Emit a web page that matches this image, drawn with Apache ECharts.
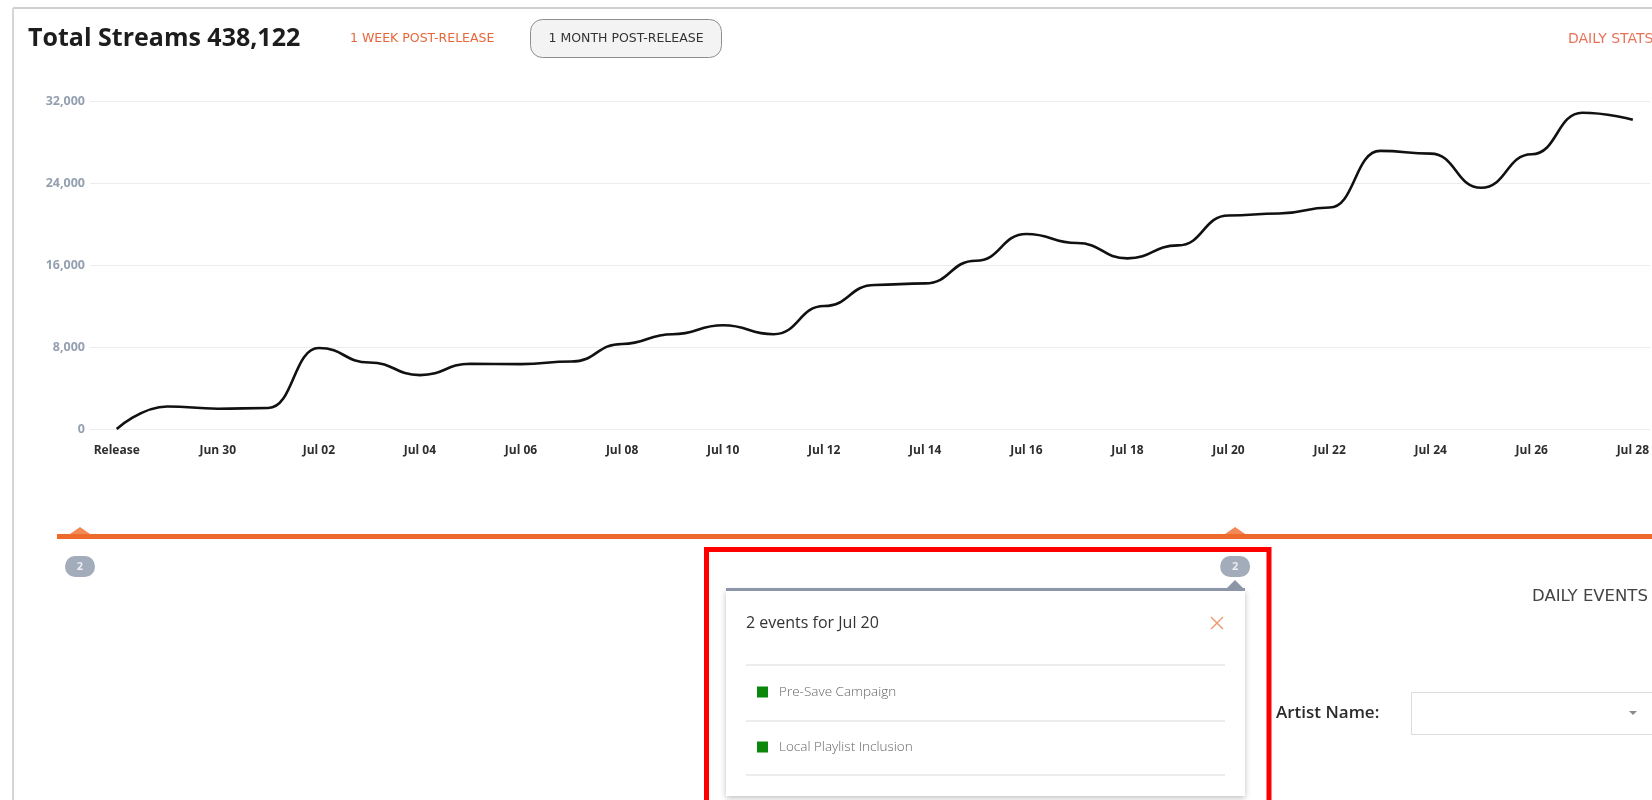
<!DOCTYPE html>
<html>
<head>
<meta charset="utf-8">
<title>Total Streams</title>
<script src="https://cdn.jsdelivr.net/npm/echarts@6/dist/echarts.min.js"></script>
<style>
  html, body { margin: 0; padding: 0; background: #fff; }
  #main { width: 1652px; height: 800px; }
</style>
</head>
<body>
<div id="main"></div>
<script>
// days since release
var days = ['Release', 'Jun 29', 'Jun 30', 'Jul 01', 'Jul 02', 'Jul 03', 'Jul 04', 'Jul 05',
  'Jul 06', 'Jul 07', 'Jul 08', 'Jul 09', 'Jul 10', 'Jul 11', 'Jul 12', 'Jul 13', 'Jul 14',
  'Jul 15', 'Jul 16', 'Jul 17', 'Jul 18', 'Jul 19', 'Jul 20', 'Jul 21', 'Jul 22', 'Jul 23',
  'Jul 24', 'Jul 25', 'Jul 26', 'Jul 27', 'Jul 28'];
// daily streams
var streams = [0, 2200, 1980, 2050, 7900, 6490, 5260, 6360, 6330, 6590, 8300, 9250, 10120,
  9250, 12000, 14050, 14210, 16420, 19020, 18140, 16650, 17910, 20830, 21030, 21610, 27130,
  26870, 23530, 26800, 30860, 30180];
// y ticks
var yTicks = [0, 8000, 16000, 24000, 32000];
// label every second day
var labelDays = [0, 2, 4, 6, 8, 10, 12, 14, 16, 18, 20, 22, 24, 26, 28, 30];
// events on the timeline
var eventDates = ['Release', 'Jul 20'];
var eventCounts = [2, 2];
var popupNames = ['Pre-Save Campaign', 'Local Playlist Inclusion'];

var total = 438122;
var font = 'Open Sans';
var wide = 'DejaVu Sans';
var orange = '#ee6a2c';

var lineData = [];
for (var i = 0; i < streams.length; i++) {
  lineData.push([i, streams[i]]);
}
var eventIdx = eventDates.map(function (d) { return days.indexOf(d); });

var myChart = echarts.init(document.getElementById('main'));

var graphics = [
  // card border
  { type: 'line', shape: { x1: 13, y1: 8, x2: 1652, y2: 8 }, style: { stroke: '#cfcfcf', lineWidth: 2 } },
  { type: 'line', shape: { x1: 13, y1: 8, x2: 13, y2: 800 }, style: { stroke: '#d6d6d6', lineWidth: 2 } },
  // header
  { type: 'text', x: 28, y: 39, style: { text: 'Total Streams ' + total.toLocaleString('en-US'), font: 'bold 25px "' + font + '"', fill: '#1d1d1d', verticalAlign: 'middle' } },
  { type: 'text', x: 350, y: 39, style: { text: '1 WEEK POST-RELEASE', font: '12.5px "' + wide + '"', fill: '#e8673a', verticalAlign: 'middle' } },
  { type: 'rect', shape: { x: 530.5, y: 19.5, width: 191, height: 38, r: 12 }, style: { fill: '#f3f3f4', stroke: '#8e8e8e', lineWidth: 1 } },
  { type: 'text', x: 626, y: 39, style: { text: '1 MONTH POST-RELEASE', font: '12.5px "' + wide + '"', fill: '#333', align: 'center', verticalAlign: 'middle' } },
  { type: 'text', x: 1568, y: 39, style: { text: 'DAILY STATS', font: '14px "' + wide + '"', fill: '#e8735a', verticalAlign: 'middle' } },
  // timeline bar
  { type: 'rect', z: 1, shape: { x: 57, y: 534, width: 1600, height: 5 }, style: { fill: orange } },
  // right panel
  { type: 'text', x: 1532, y: 597, style: { text: 'DAILY EVENTS', font: '16.5px "' + wide + '"', fill: '#444', verticalAlign: 'middle' } },
  { type: 'text', x: 1276, y: 713, style: { text: 'Artist Name:', font: '600 17px "' + font + '"', fill: '#2b2b2b', verticalAlign: 'middle' } },
  { type: 'rect', shape: { x: 1411.5, y: 692.5, width: 260, height: 42 }, style: { fill: '#fff', stroke: '#dcdcdc', lineWidth: 1 } },
  { type: 'polygon', shape: { points: [[1629, 711], [1637, 711], [1633, 715]] }, style: { fill: '#8a8a8a' } },
  // popup
  { type: 'rect', z: 50, shape: { x: 726, y: 590, width: 519, height: 206 }, style: { fill: '#fff', shadowBlur: 6, shadowColor: 'rgba(0,0,0,0.25)', shadowOffsetY: 2 } },
  { type: 'rect', z: 51, shape: { x: 726, y: 588, width: 519, height: 3 }, style: { fill: '#8c96a8' } },
  { type: 'polygon', z: 51, shape: { points: [[1226, 589], [1235, 580], [1244, 589]] }, style: { fill: '#8c96a8' } },
  { type: 'text', z: 52, x: 746, y: 623, style: { text: eventCounts[1] + ' events for ' + eventDates[1], font: '500 16px "' + font + '"', fill: '#333', verticalAlign: 'middle' } },
  { type: 'line', z: 52, shape: { x1: 1211, y1: 617, x2: 1223, y2: 629 }, style: { stroke: '#f09a72', lineWidth: 1.5 } },
  { type: 'line', z: 52, shape: { x1: 1223, y1: 617, x2: 1211, y2: 629 }, style: { stroke: '#f09a72', lineWidth: 1.5 } }
];

var sepY = [665, 721, 775];
sepY.forEach(function (y) {
  graphics.push({ type: 'line', z: 52, shape: { x1: 746, y1: y, x2: 1225, y2: y }, style: { stroke: '#e6e6e6', lineWidth: 1.5 } });
});
popupNames.forEach(function (name, k) {
  var y = 692 + k * 55;
  graphics.push({ type: 'rect', z: 52, shape: { x: 757, y: y - 5.5, width: 11, height: 11 }, style: { fill: '#0b870b' } });
  graphics.push({ type: 'text', z: 52, x: 779, y: y, style: { text: name, font: '300 13.5px "' + font + '"', fill: '#666', verticalAlign: 'middle' } });
});
// highlight box
graphics.push({ type: 'rect', z: 60, shape: { x: 706.5, y: 549.5, width: 562.5, height: 300 }, style: { fill: 'none', stroke: '#ff0000', lineWidth: 5 } });

option = {
  animation: false,
  textStyle: { fontFamily: font },
  grid: [
    { left: 90, right: 0, top: 101, height: 328 },
    { left: 57, right: 0, top: 520, height: 60 }
  ],
  xAxis: [
    {
      type: 'value',
      gridIndex: 0,
      min: -0.528,
      max: 30.34,
      splitLine: { show: false },
      axisLine: { show: false },
      axisTick: { show: false },
      axisLabel: {
        customValues: labelDays,
        formatter: function (v) { return days[v]; },
        color: '#2e2e2e',
        fontWeight: 'bold',
        fontSize: 12,
        margin: 16
      }
    },
    { type: 'value', gridIndex: 1, min: -0.438, max: 29.94, show: false }
  ],
  yAxis: [
    {
      type: 'value',
      gridIndex: 0,
      min: 0,
      max: 32000,
      interval: 8000,
      axisLine: { show: false },
      axisTick: { show: false },
      splitLine: { lineStyle: { color: '#ececec', width: 1 } },
      axisLabel: {
        formatter: function (v) { return v.toLocaleString('en-US'); },
        color: '#94a0b0',
        fontWeight: 'bold',
        fontSize: 12.5,
        margin: 5
      }
    },
    { type: 'value', gridIndex: 1, min: 0, max: 60, inverse: true, show: false }
  ],
  graphic: graphics,
  series: [
    {
      name: 'Streams',
      type: 'line',
      xAxisIndex: 0,
      yAxisIndex: 0,
      data: lineData,
      smooth: 0.5,
      smoothMonotone: 'x',
      showSymbol: false,
      lineStyle: { color: '#111', width: 2.6 }
    },
    {
      name: 'markers',
      type: 'scatter',
      xAxisIndex: 1,
      yAxisIndex: 1,
      symbol: 'triangle',
      symbolSize: [20, 7],
      z: 3,
      itemStyle: { color: orange },
      data: eventIdx.map(function (d) { return [d, 10.5]; })
    },
    {
      name: 'events',
      type: 'scatter',
      xAxisIndex: 1,
      yAxisIndex: 1,
      symbol: 'path://M10,0H20A10,10 0 0 1 20,20H10A10,10 0 0 1 10,0Z',
      symbolKeepAspect: false,
      symbolSize: [30, 21],
      z: 3,
      itemStyle: { color: '#8b97aa' },
      label: {
        show: true,
        position: 'inside',
        color: '#fff',
        fontWeight: 'bold',
        fontSize: 11,
        formatter: function (p) { return eventCounts[p.dataIndex]; }
      },
      data: eventIdx.map(function (d) { return [d, 46.5]; })
    }
  ]
};
myChart.setOption(option);
window.onresize = myChart.resize;
</script>
</body>
</html>
